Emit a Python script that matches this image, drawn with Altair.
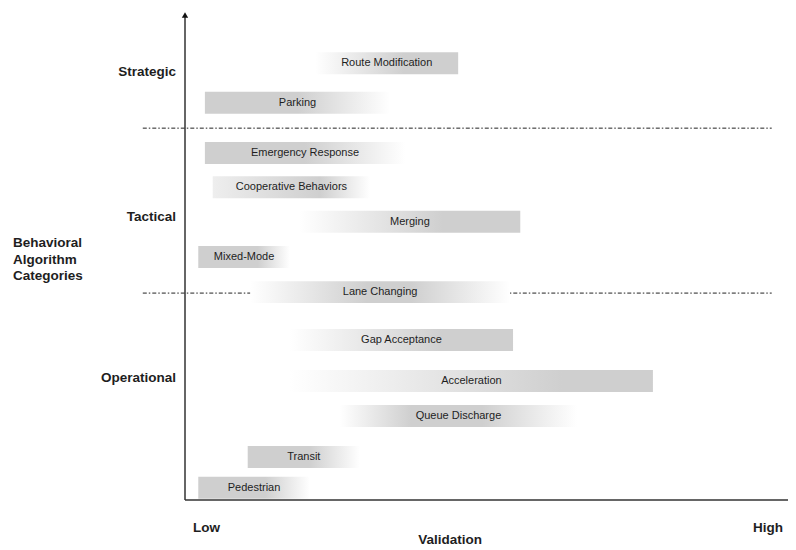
import altair as alt
import pandas as pd

# ---- data (validation scale 0-100, vertical position scale 0-100) ----
names = ["Route Modification", "Parking", "Emergency Response", "Cooperative Behaviors",
         "Merging", "Mixed-Mode", "Lane Changing", "Gap Acceptance", "Acceleration",
         "Queue Discharge", "Transit", "Pedestrian"]
val_start = [21.6, 3.3, 3.3, 4.6, 19.0, 2.2, 10.8, 17.4, 17.4, 25.7, 10.4, 2.2]
val_end = [45.3, 34.0, 36.5, 30.7, 55.6, 17.4, 53.9, 54.4, 77.6, 65.0, 29.0, 20.7]
level = [89.5, 81.4, 71.1, 64.1, 57.0, 49.8, 42.6, 32.8, 24.4, 17.2, 8.8, 2.5]

categories = ["Strategic", "Tactical", "Operational"]
category_level = [87.7, 58.0, 25.0]

separator_level = [76.2, 42.4]
separator_from = [-7.0, -7.0]
separator_to = [97.3, 97.3]

axis_labels = ["Low", "High"]
axis_label_pos = [0, 100]
x_title = "Validation"
y_title = "Behavioral\nAlgorithm\nCategories"

# ---- styling ----
GRAY = "#cfcfcf"
TEXT = "#1e1e1e"
FONT = "Liberation Sans"
BOLD = 13.5
W = "#ffffff"
fades = {
    "Route Modification": [(0, W), (0.62, GRAY), (1, GRAY)],
    "Parking": [(0, GRAY), (0.5, GRAY), (1, W)],
    "Emergency Response": [(0, GRAY), (0.5, GRAY), (1, W)],
    "Cooperative Behaviors": [(0, "#eeeeee"), (0.68, GRAY), (1, W)],
    "Merging": [(0, W), (0.65, GRAY), (1, GRAY)],
    "Mixed-Mode": [(0, GRAY), (0.65, GRAY), (1, W)],
    "Lane Changing": [(0, W), (0.45, GRAY), (0.62, GRAY), (1, W)],
    "Gap Acceptance": [(0, W), (0.68, GRAY), (1, GRAY)],
    "Acceleration": [(0, W), (0.75, GRAY), (1, GRAY)],
    "Queue Discharge": [(0, W), (0.3, GRAY), (0.6, GRAY), (1, W)],
    "Transit": [(0, GRAY), (0.55, GRAY), (1, W)],
    "Pedestrian": [(0, GRAY), (0.6, GRAY), (1, W)],
}
HALF = 2.25  # half bar thickness in level units

xs = alt.Scale(domain=[0, 100], nice=False, zero=False)
ys = alt.Scale(domain=[0, 100], nice=False, zero=False)

bars_df = pd.DataFrame({"name": names, "x0": val_start, "x1": val_end, "lvl": level})
cat_df = pd.DataFrame({"cat": categories, "lvl": category_level})
sep_df = pd.DataFrame({"lvl": separator_level, "a": separator_from, "b": separator_to})
lab_df = pd.DataFrame({"lab": axis_labels, "pos": axis_label_pos})

base = alt.Chart(bars_df)

seps = alt.Chart(sep_df).mark_rule(color="#222", strokeWidth=1, strokeDash=[4, 2, 1.5, 2]).encode(
    x=alt.X("a:Q", scale=xs, axis=None), x2="b:Q", y=alt.Y("lvl:Q", scale=ys, axis=None))

layers = [seps]
for n in names:
    stops = [alt.GradientStop(offset=o, color=c) for o, c in fades[n]]
    grad = alt.LinearGradient(gradient="linear", stops=stops, x1=0, x2=1, y1=0, y2=0)
    layers.append(
        base.transform_filter(alt.datum.name == n)
        .transform_calculate(ya=f"datum.lvl - {HALF}", yb=f"datum.lvl + {HALF}")
        .mark_rect(fill=grad)
        .encode(x=alt.X("x0:Q", scale=xs, axis=None), x2="x1:Q",
                y=alt.Y("ya:Q", scale=ys, axis=None), y2="yb:Q")
    )

bar_text = base.transform_calculate(xm="(datum.x0 + datum.x1) / 2").mark_text(
    font=FONT, fontSize=11, color=TEXT).encode(
    x=alt.X("xm:Q", scale=xs, axis=None), y=alt.Y("lvl:Q", scale=ys, axis=None), text="name:N")

x_axis = alt.Chart(lab_df).mark_rule(color="#333", strokeWidth=1.5).encode(
    x=alt.value(0), x2=alt.value(603), y=alt.Y("pos:Q", aggregate="min", scale=ys, axis=None))
y_axis = alt.Chart(lab_df).mark_rule(color="#333", strokeWidth=1.5).encode(
    x=alt.X("pos:Q", aggregate="min", scale=xs, axis=None), y=alt.value(488), y2=alt.value(2))
arrow = alt.Chart(lab_df).mark_point(shape="triangle-up", filled=True, color="#111", size=40, opacity=1).encode(
    x=alt.X("pos:Q", aggregate="min", scale=xs, axis=None), y=alt.value(3))

cat_text = alt.Chart(cat_df).mark_text(font=FONT, fontSize=BOLD, fontWeight="bold", color=TEXT,
                                       align="right", dx=-9).encode(
    x=alt.value(0), y=alt.Y("lvl:Q", scale=ys, axis=None), text="cat:N")

ytitle = alt.Chart(cat_df).transform_filter(alt.datum.cat == categories[0]).mark_text(
    font=FONT, fontSize=BOLD, fontWeight="bold", color=TEXT,
    align="left", baseline="top", lineBreak="\n", lineHeight=16.5).encode(
    x=alt.value(-172), y=alt.value(224), text=alt.value(y_title))

low = alt.Chart(lab_df).transform_filter(alt.datum.pos == 0).mark_text(
    font=FONT, fontSize=BOLD, fontWeight="bold", color=TEXT, align="left", dx=8).encode(
    x=alt.X("pos:Q", scale=xs, axis=None), y=alt.value(516), text="lab:N")
high = alt.Chart(lab_df).transform_filter(alt.datum.pos == 100).mark_text(
    font=FONT, fontSize=BOLD, fontWeight="bold", color=TEXT, align="right", dx=-5).encode(
    x=alt.X("pos:Q", scale=xs, axis=None), y=alt.value(516), text="lab:N")

xtitle = alt.Chart(cat_df).transform_filter(alt.datum.cat == categories[0]).mark_text(
    font=FONT, fontSize=BOLD, fontWeight="bold", color=TEXT).encode(
    x=alt.value(265), y=alt.value(528), text=alt.value(x_title))

chart = alt.layer(*layers, bar_text, x_axis, y_axis, arrow, cat_text, ytitle, low, high, xtitle).properties(
    width=603, height=488,
    autosize=alt.AutoSizeParams(type="none"),
    padding={"left": 177, "top": 4, "right": 0, "bottom": 48},
    background="white",
).configure_view(stroke=None)

chart.save("out.html", embed_options={"renderer": "svg", "actions": False})
